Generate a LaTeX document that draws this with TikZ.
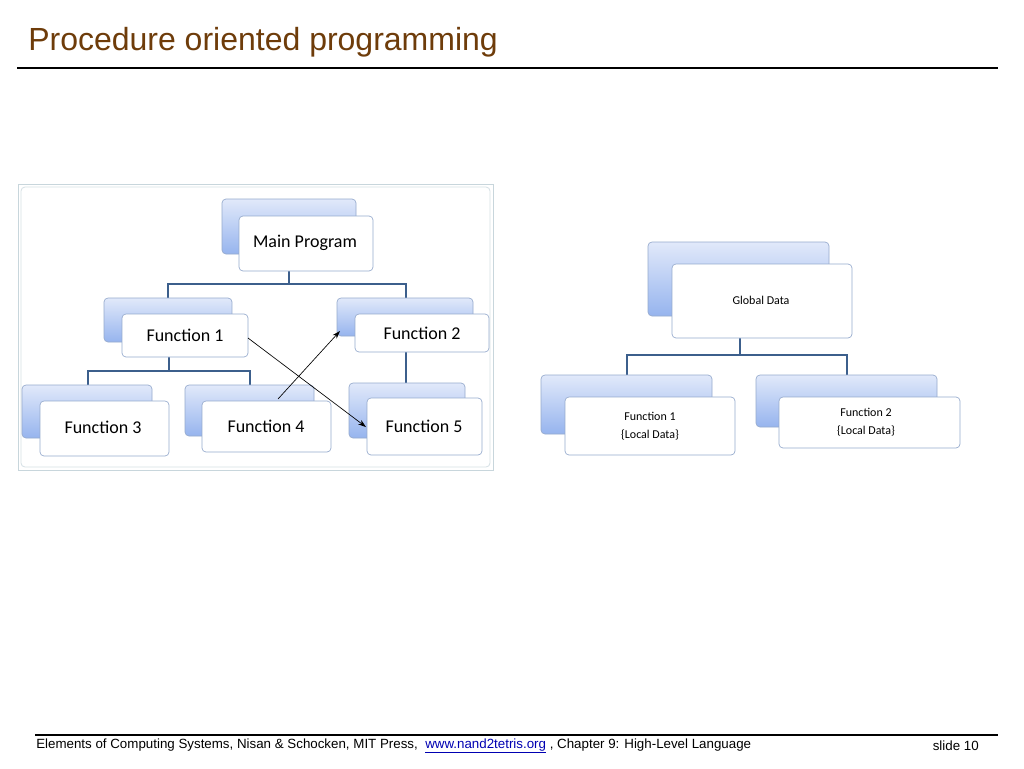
\documentclass[tikz,border=0pt]{standalone}
\usepackage{fontspec}
\setmainfont{Liberation Sans}
\newfontfamily\calfont{Carlito}
\usetikzlibrary{arrows.meta}
\definecolor{titlec}{RGB}{110,60,10}
\definecolor{bkt}{RGB}{225,233,250}
\definecolor{bkb}{RGB}{150,180,238}
\definecolor{edge}{RGB}{150,170,205}
\definecolor{conn}{RGB}{60,95,140}
\begin{document}
\begin{tikzpicture}[x=0.75pt,y=-0.75pt,
  back/.style={draw=edge,rounded corners=3pt,top color=bkt,bottom color=bkb,line width=0.5pt},
  front/.style={draw=edge,rounded corners=3pt,fill=white,line width=0.5pt},
  lab/.style={font=\calfont\fontsize{13.5}{15}\selectfont,inner sep=0pt},
  slab/.style={font=\calfont\fontsize{9}{11}\selectfont,inner sep=0pt,align=center},
  conn/.style={draw=conn,line width=1.5pt},
  arr/.style={draw=black,line width=0.5pt,-{Stealth[length=6pt,width=4pt]}}]
\useasboundingbox (0,0) rectangle (1024,768);
\fill[white] (0,0) rectangle (1024,768);
% title
\node[anchor=west,text=titlec,font=\fontsize{24}{28}\selectfont,inner sep=0pt] (title) at (28,42) {Procedure oriented programming};
\draw[line width=2.2pt] (17,68) -- (998,68);
% frame
\draw[cyan!25!gray!40,line width=0.6pt] (18,184) rectangle (493,470);
\draw[cyan!25!gray!30,line width=0.6pt,rounded corners=3pt] (21,187) rectangle (490,467);
% left connectors
\draw[conn] (289,271) -- (289,284) (168,298) |- (406,284) -- (406,298);
\draw[conn] (169,357) -- (169,371) (88,385) |- (250,371) -- (250,385);
\draw[conn] (406,352) -- (406,383);
% left boxes
\draw[back] (222,199) rectangle (356,254);
\draw[front] (239,216) rectangle (373,271);
\node[lab] (main) at (305,243) {Main Program};
\draw[back] (104,298) rectangle (232,342);
\draw[front] (122,314) rectangle (248,357);
\node[lab] (f1) at (185,335) {Function 1};
\draw[back] (337,298) rectangle (473,336);
\draw[front] (355,314) rectangle (489,352);
\node[lab] (f2) at (422,333) {Function 2};
\draw[back] (22,385) rectangle (152,438);
\draw[front] (40,401) rectangle (169,456);
\node[lab] (f3) at (103,427) {Function 3};
\draw[back] (185,385) rectangle (314,436);
\draw[front] (202,401) rectangle (331,452);
\node[lab] (f4) at (266,426) {Function 4};
\draw[back] (349,383) rectangle (465,438);
\draw[front] (367,398) rectangle (482,455);
\node[lab] (f5) at (424,426) {Function 5};
\coordinate (a1s) at (248,338);
\coordinate (a1e) at (366,427);
\coordinate (a2s) at (278,399);
\coordinate (a2e) at (340,331);
\draw[arr] (a1s) -- (a1e);
\draw[arr] (a2s) -- (a2e);
% right connectors
\draw[conn] (740,338) -- (740,355) (627,375) |- (847,355) -- (847,375);
% right boxes
\draw[back] (648,242) rectangle (829,316);
\draw[front] (672,264) rectangle (852,338);
\node[slab] (gd) at (761,300) {Global Data};
\draw[back] (541,375) rectangle (712,434);
\draw[front] (565,397) rectangle (735,455);
\node[slab] (rf1) at (650,426) {Function 1\\[3pt]\{Local Data\}};
\draw[back] (756,375) rectangle (937,427);
\draw[front] (779,397) rectangle (960,448);
\node[slab] (rf2) at (866,422) {Function 2\\[3pt]\{Local Data\}};
% footer
\draw[line width=0.8pt] (35,735) -- (998,735);
\node[anchor=west,font=\fontsize{10}{12}\selectfont,inner sep=0pt] (foot) at (36,746) {Elements of Computing Systems, Nisan \& Schocken, MIT Press,\ \ \textcolor{blue!70!black}{\underline{www.nand2tetris.org}} , Chapter 9: High-Level Language};
\node[anchor=east,font=\fontsize{10}{12}\selectfont,inner sep=0pt] (slide) at (979,746) {slide 10};
\end{tikzpicture}
\end{document}
